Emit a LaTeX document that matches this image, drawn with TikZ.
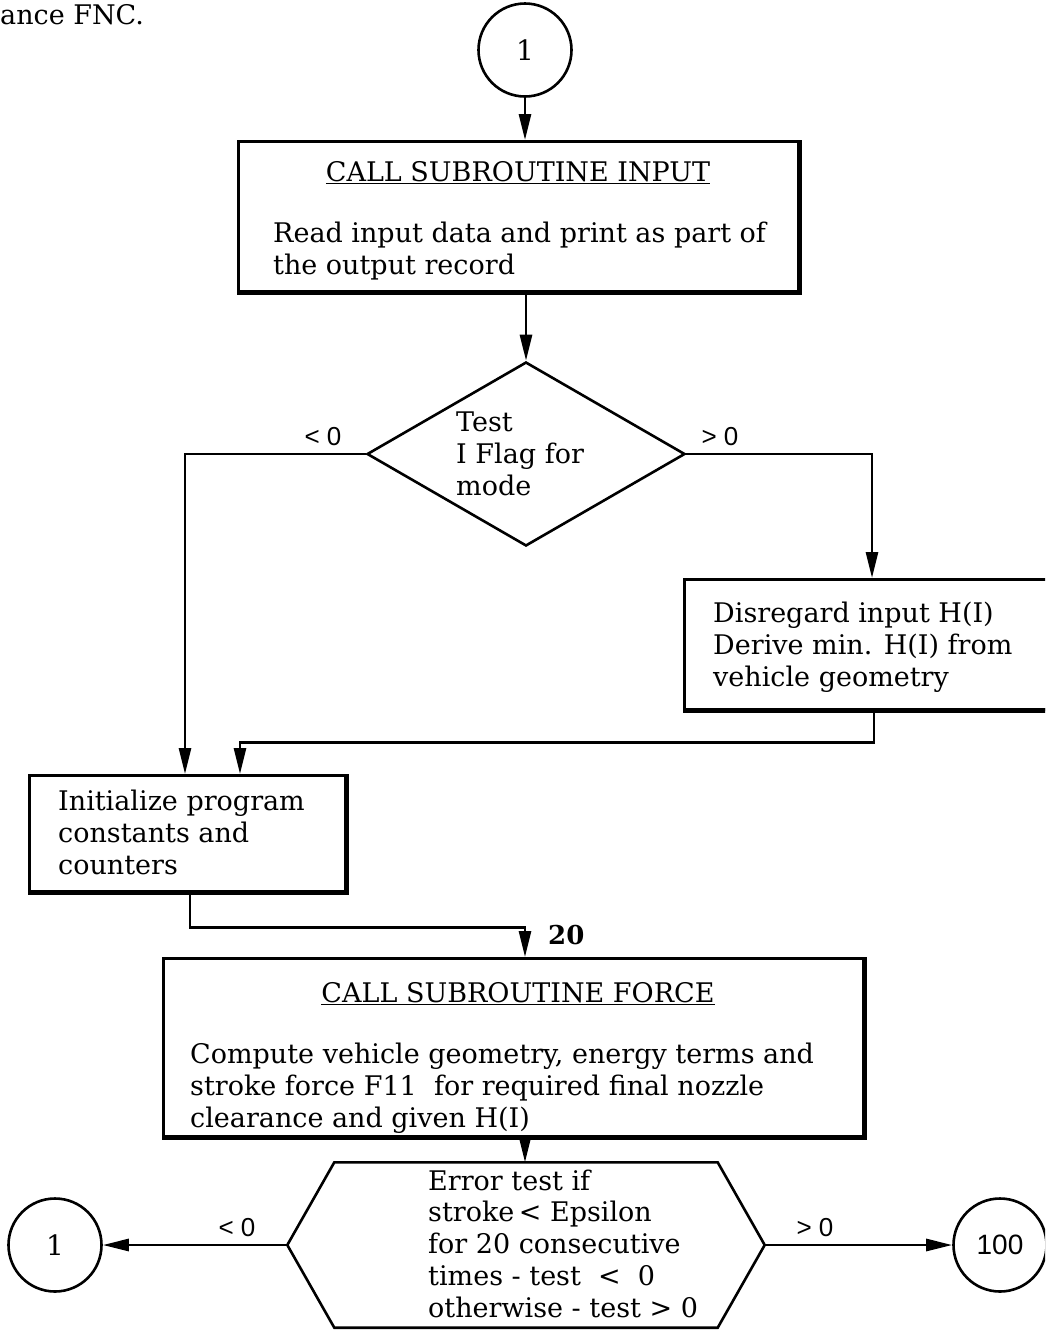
\documentclass[tikz,border=0pt]{standalone}
\usepackage{fontspec}
\setmainfont{DejaVu Serif}
\setsansfont{Liberation Sans}
\usetikzlibrary{arrows.meta, shapes.geometric, positioning}

\tikzset{
  box/.style={draw, line width=2.6pt, anchor=north west, inner sep=0pt},
  heavy/.style={line width=5pt},
  txt/.style={anchor=base west, align=left, inner sep=0pt, font=\fontsize{27}{32}\selectfont},
  tag/.style={inner sep=0pt, font=\sffamily\fontsize{26}{30}\selectfont},
  conn/.style={line width=2.8pt},
  arr/.style={conn, -{Triangle[length=26pt, width=12pt]}},
  stop/.style={draw, circle, line width=2.6pt, minimum size=93pt, inner sep=0pt,
               font=\fontsize{28}{32}\selectfont},
}

\begin{document}
\begin{tikzpicture}[x=1pt, y=-1pt]
\useasboundingbox (0,0) rectangle (1045,1331);
\clip (0,0) rectangle (1045,1331);

\node[txt] (carry) at (0,24) {ance FNC.};

% entry point and INPUT call (multi-line texts sit on their last baseline)
\node[stop] (start) at (525,50) {1};
\node[box, minimum width=560pt, minimum height=150pt] (input) at (237,140) {};
\node[txt, anchor=base] (inputhead) at (518,181) {\underline{CALL SUBROUTINE INPUT}};
\node[txt] (inputbody) at (273,274) {Read input data and print as part of\\the output record};
\draw[arr] (start.south) -- (start.south |- input.north);

% mode test
\node[draw, diamond, line width=2.6pt, minimum width=318pt, minimum height=184pt, inner sep=0pt] (mode) at (526,454) {};
\node[txt] (modetxt) at (456,495) {Test\\I Flag for\\mode};
\node[tag] (modelt) at (323,437) {< 0};
\node[tag] (modegt) at (720,437) {> 0};
\draw[arr] (mode.north |- input.south) -- (mode.north);

% H(I) from geometry
\node[box, minimum width=382pt, minimum height=130pt] (hgt) at (683,578) {};
\node[txt] (hgttxt) at (713,686) {Disregard input H(I)\\Derive min. H(I) from\\vehicle geometry};

% initialisation
\node[box, minimum width=316pt, minimum height=116pt] (init) at (28,774) {};
\node[txt] (inittxt) at (58,874) {Initialize program\\constants and\\counters};

\draw[arr] (mode.west) -| ([xshift=157pt]init.north west);
\draw[arr] (mode.east) -| ([xshift=189pt]hgt.north west);
\draw[arr] ([xshift=191pt]hgt.south west) -- ++(0,32) -| ([xshift=212pt]init.north west);

% FORCE call, label 20
\node[box, minimum width=700pt, minimum height=178pt] (force) at (162,957) {};
\node[txt, anchor=base] (forcehead) at (518,1002) {\underline{CALL SUBROUTINE FORCE}};
\node[txt] (forcebody) at (190,1127) {Compute vehicle geometry, energy terms and\\stroke force F11~ for required final nozzle\\clearance and given H(I)};
\node[txt, font=\bfseries\fontsize{26}{32}\selectfont] (lbl20) at (548,944) {20};
\draw[arr] ([xshift=162pt]init.south west) -- ++(0,35) -| ([xshift=363pt]force.north west);

% convergence test
\node[minimum width=477pt, minimum height=165pt, inner sep=0pt] (err) at (526,1245) {};
\draw[line width=2.6pt] (err.west) -- ([xshift=47pt]err.north west) -- ([xshift=-47pt]err.north east)
  -- (err.east) -- ([xshift=-47pt]err.south east) -- ([xshift=47pt]err.south west) -- cycle;
\node[txt, font=\fontsize{27}{31.75}\selectfont] (errtxt) at (428,1317) {Error test if\\stroke\,< Epsilon\\for 20 consecutive\\times - test \ <\ \ 0\\otherwise - test > 0};
\draw[arr] ([xshift=363pt]force.south west) -- ([xshift=363pt]force.south west |- err.north);

% exits
\node[stop] (back) at (55,1245) {1};
\node[stop, font=\sffamily\fontsize{28}{32}\selectfont] (done) at (1000,1245) {100};
\node[tag] (errlt) at (237,1228) {< 0};
\node[tag] (errgt) at (815,1228) {> 0};
\draw[arr] (err.west) -- (back);
\draw[arr] (err.east) -- (done);

% heavy right and bottom edges
\foreach \b in {input, hgt, init, force}
  \draw[heavy] (\b.north east) -- (\b.south east) -- (\b.south west);
\end{tikzpicture}
\end{document}
